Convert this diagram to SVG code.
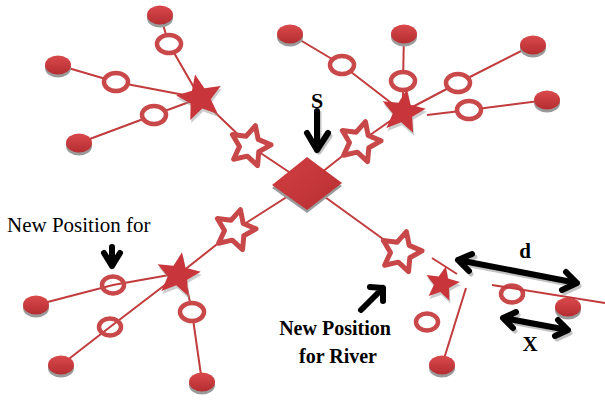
<svg xmlns="http://www.w3.org/2000/svg" xmlns:xlink="http://www.w3.org/1999/xlink" width="605" height="400" viewBox="0 0 605 400">
<style>
.ln{stroke:#c23b3d;stroke-width:2;fill:none}
.ring{fill:#fff;stroke:#c9484a;stroke-width:4.5}
.ringo{fill:none;stroke:#c9484a;stroke-width:4.5}
.sh{fill:#9a9a9a}
.dot{fill:url(#gdot)}
.fs{fill:#c8353a}
.hs{fill:#fff;stroke:#c8484a;stroke-width:5;stroke-linejoin:round}
.ar{fill:none;stroke:#000;stroke-width:6;stroke-linecap:round;stroke-linejoin:round}
.ars{fill:none;stroke:#9a9a9a;stroke-width:5;stroke-linecap:round;stroke-linejoin:round;opacity:0.6}
.t{font-family:"Liberation Serif","Times New Roman",serif;fill:#000}
</style>
<defs>
<linearGradient id="gdot" x1="0" y1="0" x2="0" y2="1">
<stop offset="0" stop-color="#d9494b"/><stop offset="1" stop-color="#b52d31"/>
</linearGradient>
<linearGradient id="gdia" x1="0" y1="0" x2="1" y2="1">
<stop offset="0" stop-color="#d23f42"/><stop offset="1" stop-color="#b82f33"/>
</linearGradient>
<path id="star" d="M0,-20 L5.29,-7.28 L19.02,-6.18 L8.56,2.78 L11.76,16.18 L0,9 L-11.76,16.18 L-8.56,2.78 L-19.02,-6.18 L-5.29,-7.28 Z"/>
<path id="hstar" d="M0,-21 L6.2,-8.5 L20,-6.5 L10,3.3 L12.4,17 L0,10.5 L-12.4,17 L-10,3.3 L-20,-6.5 L-6.2,-8.5 Z"/>
<g id="dotg"><ellipse class="sh" cx="0" cy="3" rx="13" ry="9.5"/><ellipse class="dot" cx="0" cy="0" rx="13" ry="9.5"/></g>
</defs>
<rect width="605" height="400" fill="#fff"/>
<g id="connectors">
<polyline class="ln" points="200,98 250,146 307,184"/>
<polyline class="ln" points="307,184 360,142 403,112"/>
<polyline class="ln" points="307,184 235,230 178,275"/>
<polyline class="ln" points="307,184 401,252"/>
<polyline class="ln" points="200,98 169,44 160,15"/>
<polyline class="ln" points="200,98 116,82 58,65"/>
<polyline class="ln" points="200,98 154,115 79,143"/>
<polyline class="ln" points="290,34 342,65 403,112"/>
<polyline class="ln" points="403,112 403,81 404,34"/>
<polyline class="ln" points="403,112 458,83 533,45"/>
<polyline class="ln" points="427,115 469,110 547,100"/>
<polyline class="ln" points="186,272 113,285 36,305"/>
<polyline class="ln" points="178,275 110,327 61,365"/>
<polyline class="ln" points="187,288 192,312 202,382"/>
<line class="ln" x1="432" y1="258" x2="457" y2="274"/>
<line class="ln" x1="466" y1="288" x2="443" y2="362"/>
</g>
<g id="n-e1"><use xlink:href="#dotg" transform="translate(160,15)"/></g>
<g id="n-e2"><use xlink:href="#dotg" transform="translate(58,65)"/></g>
<g id="n-e3"><use xlink:href="#dotg" transform="translate(79,143)"/></g>
<g id="n-e4"><use xlink:href="#dotg" transform="translate(290,34)"/></g>
<g id="n-e5"><use xlink:href="#dotg" transform="translate(404,34)"/></g>
<g id="n-e6"><use xlink:href="#dotg" transform="translate(533,45)"/></g>
<g id="n-e7"><use xlink:href="#dotg" transform="translate(547,100)"/></g>
<g id="n-e8"><use xlink:href="#dotg" transform="translate(36,305)"/></g>
<g id="n-e9"><use xlink:href="#dotg" transform="translate(61,365)"/></g>
<g id="n-e10"><use xlink:href="#dotg" transform="translate(202,382)"/></g>
<g id="n-e11"><use xlink:href="#dotg" transform="translate(442,365)"/></g>
<g id="n-e12"><use xlink:href="#dotg" transform="translate(568,307)"/></g>
<g id="n-r1"><ellipse class="ring" cx="169" cy="44" rx="12" ry="9"/></g>
<g id="n-r2"><ellipse class="ring" cx="116" cy="82" rx="12" ry="9"/></g>
<g id="n-r3"><ellipse class="ring" cx="154" cy="115" rx="12" ry="9"/></g>
<g id="n-r4"><ellipse class="ring" cx="342" cy="65" rx="12" ry="9"/></g>
<g id="n-r5"><ellipse class="ring" cx="403" cy="81" rx="12" ry="9"/></g>
<g id="n-r6"><ellipse class="ring" cx="458" cy="83" rx="12" ry="9"/></g>
<g id="n-r7"><ellipse class="ring" cx="469" cy="110" rx="12" ry="9"/></g>
<g id="n-r8"><ellipse class="ringo" cx="113" cy="285" rx="11" ry="8.5"/></g>
<g id="n-r9"><ellipse class="ringo" cx="110" cy="327" rx="11" ry="8.5"/></g>
<g id="n-r10"><ellipse class="ring" cx="192" cy="312" rx="12" ry="9"/></g>
<g id="n-r11"><ellipse class="ring" cx="427" cy="322" rx="11" ry="8.5"/></g>
<g id="n-r12"><ellipse class="ring" cx="512" cy="294" rx="11" ry="8.5"/></g>
<line class="ln" x1="492" y1="285" x2="605" y2="303"/>
<g id="n-hs1"><use xlink:href="#hstar" class="hs" transform="translate(250,146) rotate(15)"/></g>
<g id="n-hs2"><use xlink:href="#hstar" class="hs" transform="translate(360,142) rotate(15)"/></g>
<g id="n-hs3"><use xlink:href="#hstar" class="hs" transform="translate(235,230) rotate(15)"/></g>
<g id="n-hs4"><use xlink:href="#hstar" class="hs" transform="translate(401,252) rotate(15)"/></g>
<g id="n-fs1"><use xlink:href="#star" class="sh" transform="translate(201,101) rotate(-12) scale(1.2)" opacity="0.5"/><use xlink:href="#star" class="fs" transform="translate(200,98) rotate(-12) scale(1.2)"/></g>
<g id="n-fs2"><use xlink:href="#star" class="sh" transform="translate(404,115) rotate(10) scale(1.15)" opacity="0.5"/><use xlink:href="#star" class="fs" transform="translate(403,112) rotate(10) scale(1.15)"/></g>
<g id="n-fs3"><use xlink:href="#star" class="sh" transform="translate(179,278) rotate(10) scale(1.15)" opacity="0.5"/><use xlink:href="#star" class="fs" transform="translate(178,275) rotate(10) scale(1.15)"/></g>
<g id="n-fs4"><use xlink:href="#star" class="sh" transform="translate(443,287) rotate(12) scale(0.9)" opacity="0.5"/><use xlink:href="#star" class="fs" transform="translate(442,284) rotate(12) scale(0.9)"/></g>
<g id="n-s">
<polygon class="sh" points="272,188 307,160 342,186 307,213"/>
<polygon fill="url(#gdia)" points="272,185 307,157 342,183 307,210"/>
</g>
<g id="arrows">
<path class="ars" d="M319,113 V152 M309,136 L319,152 L330,136"/>
<path class="ar" d="M317,111 V150 M307,133 L317,150 L328,133"/>
<path class="ar" d="M112,247 V266 M104,253 L112,266 L120,253"/>
<path class="ar" d="M361,310 L383,288 M370,287 L383,288 L383,301"/>
<path class="ars" d="M460,263 L579,286 M471,274 L460,263 L475,257 M568,275 L579,286 L564,293"/>
<path class="ar" d="M458,260 L577,283 M469,271 L458,260 L472,254 M566,272 L577,283 L562,290"/>
<path class="ars" d="M505,321 L570,333 M515,331 L505,321 L518,315 M560,323 L570,333 L557,339"/>
<path class="ar" d="M503,318 L568,330 M513,328 L503,318 L516,312 M558,320 L568,330 L555,336"/>
</g>
<g id="labels">
<text class="t" x="317" y="108" font-size="22" font-weight="bold" text-anchor="middle">S</text>
<text class="t" x="7" y="232" font-size="21">New Position for</text>
<text class="t" x="525" y="258" font-size="21" font-weight="bold" text-anchor="middle">d</text>
<text class="t" x="530" y="351" font-size="21" font-weight="bold" text-anchor="middle">X</text>
<text class="t" x="335" y="335" font-size="20" font-weight="bold" text-anchor="middle">New Position</text>
<text class="t" x="338" y="363" font-size="20" font-weight="bold" text-anchor="middle">for River</text>
</g>
</svg>
